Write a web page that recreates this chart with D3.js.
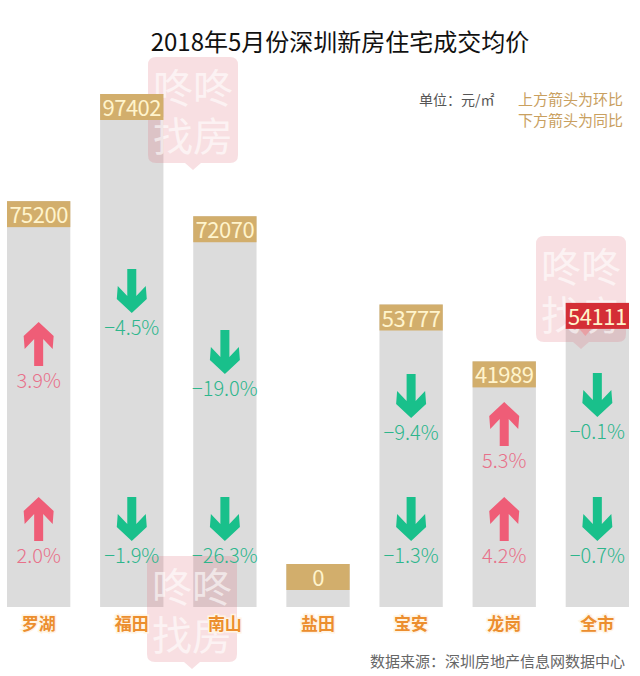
<!DOCTYPE html>
<html>
<head>
<meta charset="utf-8">
<script src="https://cdn.jsdelivr.net/npm/d3@7"></script>
<style>
  body { margin: 0; background: #fff; }
  text { font-family: "Noto Sans CJK SC", "Noto Sans", sans-serif; }
</style>
</head>
<body>
<div id="chart"></div>
<script>
// data
const categories = ["罗湖", "福田", "南山", "盐田", "宝安", "龙岗", "全市"];
const prices = [75200, 97402, 72070, 0, 53777, 41989, 54111];
const mom = [3.9, -4.5, -19.0, null, -9.4, 5.3, -0.1];   // 环比 (upper arrow)
const yoy = [2.0, -1.9, -26.3, null, -1.3, 4.2, -0.7];   // 同比 (lower arrow)
const highlight = "全市";

const width = 640, height = 676;
const base = 607, boxH = 26;

const svg = d3.select("#chart").append("svg")
    .attr("width", width)
    .attr("height", height);

const x = d3.scaleBand().domain(categories).range([7, 629]).paddingInner(0.32).paddingOuter(0);
const y = d3.scaleLinear().domain([0, d3.max(prices)]).range([590, 120]);
const cx = d => x(d.cat) + x.bandwidth() / 2;

const rows = categories.map((c, i) => ({ cat: c, price: prices[i], mom: mom[i], yoy: yoy[i] }));

const barLayer = svg.append("g");
const wmLayer = svg.append("g");
const topLayer = svg.append("g");

// title
svg.append("text")
    .attr("x", 340).attr("y", 51)
    .attr("text-anchor", "middle")
    .attr("font-size", 24)
    .attr("fill", "#111")
    .text("2018年5月份深圳新房住宅成交均价");

// unit / legend
svg.append("text")
    .attr("x", 419).attr("y", 105)
    .attr("font-size", 14).attr("fill", "#555")
    .text("单位：元/㎡");
svg.append("text")
    .attr("x", 623).attr("y", 105)
    .attr("text-anchor", "end")
    .attr("font-size", 15).attr("fill", "#c9a060")
    .text("上方箭头为环比");
svg.append("text")
    .attr("x", 623).attr("y", 126)
    .attr("text-anchor", "end")
    .attr("font-size", 15).attr("fill", "#c9a060")
    .text("下方箭头为同比");

// bars
barLayer.selectAll("rect").data(rows).enter().append("rect")
    .attr("x", d => x(d.cat))
    .attr("y", d => y(d.price) - boxH)
    .attr("width", x.bandwidth())
    .attr("height", d => base - y(d.price) + boxH)
    .attr("fill", "#dcdcdc");

// watermarks (the last one sits just above the highlighted box)
const hiTop = y(prices[categories.indexOf(highlight)]) - boxH;
const marks = [[193, 57], [192, 556], [581, hiTop - 67]];
const wm = wmLayer.selectAll(".wm").data(marks).enter().append("g")
    .attr("class", "wm")
    .attr("transform", d => `translate(${d[0]},${d[1]})`);
wm.append("path")
    .attr("d", "M-37,0 H37 Q45,0 45,8 V98 Q45,106 37,106 H8 L0,113 L-8,106 H-37 Q-45,106 -45,98 V8 Q-45,0 -37,0 Z")
    .attr("fill", "rgba(222,110,125,0.22)");
wm.append("text")
    .attr("y", 46).attr("text-anchor", "middle")
    .attr("font-size", 40).attr("fill", "rgba(255,255,255,0.6)")
    .text("咚咚");
wm.append("text")
    .attr("y", 94).attr("text-anchor", "middle")
    .attr("font-size", 40).attr("fill", "rgba(255,255,255,0.6)")
    .text("找房");

const g = topLayer.selectAll(".bar").data(rows).enter().append("g").attr("class", "bar");

// value boxes
g.append("rect")
    .attr("x", d => x(d.cat))
    .attr("y", d => y(d.price) - boxH)
    .attr("width", x.bandwidth())
    .attr("height", boxH)
    .attr("fill", d => d.cat === highlight ? "#d42e36" : "#d2ae6c");
g.filter(d => d.cat === highlight).append("path")
    .attr("d", d => {
        const px = cx(d) - 12, yy = y(d.price);
        return `M${px - 6},${yy} L${px + 6},${yy} L${px},${yy + 7} Z`;
    })
    .attr("fill", "#e8a0a4");
g.append("text")
    .attr("x", cx)
    .attr("y", d => y(d.price) - 4)
    .attr("text-anchor", "middle")
    .attr("font-size", 22)
    .attr("letter-spacing", -0.5)
    .attr("fill", "#fff4cc")
    .text(d => d.price);

// arrows
const downPath = "M-4.5,0 H4.5 V27 L14,17 L15,30 L0,44 L-15,30 L-14,17 L-4.5,27 Z";
const upPath = "M-4.5,44 H4.5 V17 L14,27 L15,14 L0,0 L-15,14 L-14,27 L-4.5,17 Z";
const fmt = d3.format(".1f");

function drawChange(sel, val, top) {
    const up = val >= 0;
    sel.append("path")
        .attr("transform", `translate(0,${top})`)
        .attr("d", up ? upPath : downPath)
        .attr("fill", up ? "#ef5d77" : "#19c08b");
    sel.append("text")
        .attr("y", top + 66)
        .attr("text-anchor", "middle")
        .attr("font-size", 20)
        .attr("font-weight", 300)
        .attr("fill", up ? "#e8718a" : "#2db68c")
        .text(fmt(val) + "%");
}

g.filter(d => d.yoy != null).each(function(d) {
    const cg = d3.select(this).append("g")
        .attr("transform", `translate(${cx(d)},0)`);
    const lowTop = 497;
    const upTop = Math.round((y(d.price) + lowTop) / 2 - 40);
    drawChange(cg, d.mom, upTop);
    drawChange(cg, d.yoy, lowTop);
});

// category labels
g.append("text")
    .attr("x", cx)
    .attr("y", 630)
    .attr("text-anchor", "middle")
    .attr("font-size", 17)
    .attr("font-weight", "bold")
    .attr("fill", "#ec8e2e")
    .attr("stroke", "#fff4e4")
    .attr("stroke-width", 3)
    .attr("paint-order", "stroke")
    .text(d => d.cat);

// source
svg.append("text")
    .attr("x", 625).attr("y", 667)
    .attr("text-anchor", "end")
    .attr("font-size", 15).attr("fill", "#666")
    .text("数据来源：深圳房地产信息网数据中心");
</script>
</body>
</html>
